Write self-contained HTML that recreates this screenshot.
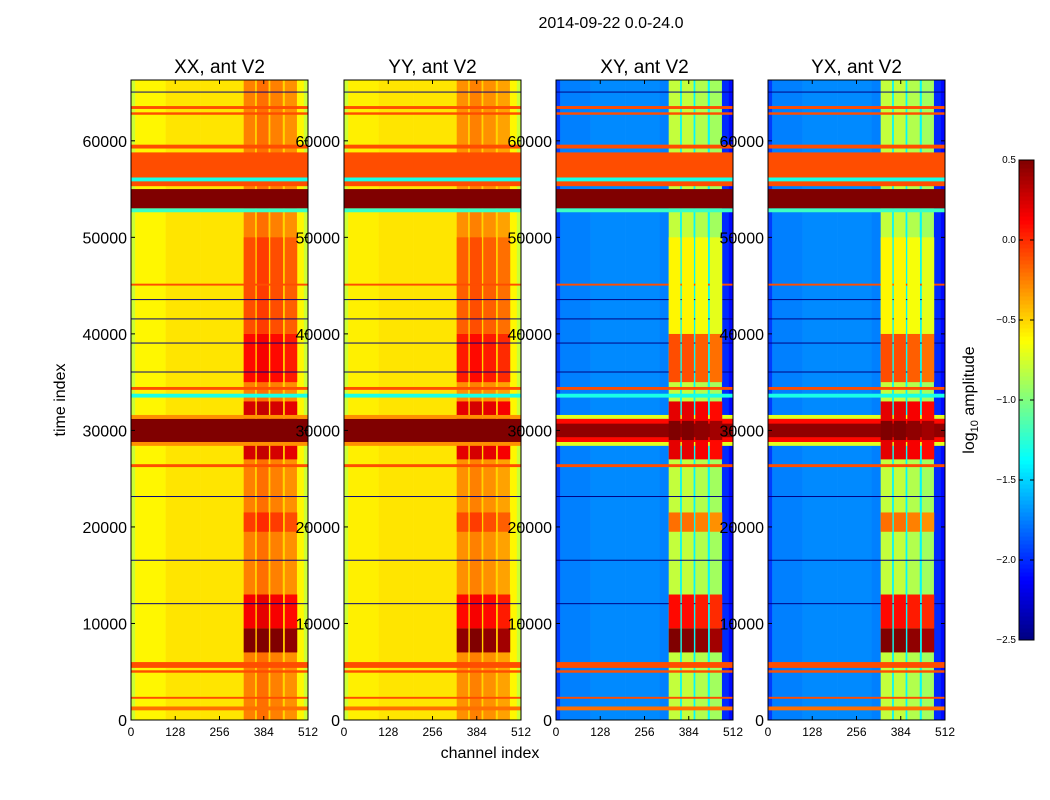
<!DOCTYPE html>
<html><head><meta charset="utf-8">
<style>
body{margin:0;background:#fff;}
svg{display:block;font-family:"Liberation Sans","DejaVu Sans",sans-serif;}
</style></head>
<body>
<svg id="chart" width="1050" height="800" viewBox="0 0 1050 800">
<text x="611" y="28" font-size="16" text-anchor="middle">2014-09-22 0.0-24.0</text>
<text x="490" y="758" font-size="16" text-anchor="middle">channel index</text>
<text transform="translate(65,400) rotate(-90)" font-size="16" text-anchor="middle">time index</text>
<text transform="translate(974,400) rotate(-90)" font-size="16" text-anchor="middle">log<tspan font-size="11" dy="4">10</tspan><tspan dy="-4"> amplitude</tspan></text>
<g id="panels"></g>
<g id="cbar"></g>
</svg>
<script>
const titles=["XX, ant V2","YY, ant V2","XY, ant V2","YX, ant V2"];
const panelKinds=["par","par","cross","cross"];
const channelEdges=[0,12,100,200,300,326,359,364,398,403,439,445,480,500,512];
const stripeMask=[0,0,0,0,0,1,0,1,0,1,0,1,0,0];
const xxBase=[-0.78,-0.6,-0.55,-0.55,-0.55,-0.25,-0.5,-0.2,-0.5,-0.25,-0.5,-0.3,-0.6,-0.78];
const yyBase=[-0.78,-0.58,-0.55,-0.55,-0.55,-0.3,-0.5,-0.25,-0.5,-0.3,-0.5,-0.35,-0.6,-0.78];
const xyBase=[-1.95,-1.75,-1.72,-1.72,-1.75,-0.8,-1.4,-0.8,-1.4,-0.85,-1.4,-0.9,-2.0,-2.1];
const yxBase=[-1.95,-1.75,-1.72,-1.72,-1.75,-0.8,-1.4,-0.8,-1.4,-0.85,-1.4,-0.9,-2.0,-2.1];
const boostBands=[[7000,9500,0.75,1.3],[9500,13000,0.4,0.9],[19500,21500,0.2,0.6],[27000,29000,0.5,1.0],[29000,31000,0.8,1.3],[31000,33000,0.5,1.0],[35000,40000,0.35,0.7],[40000,50000,0.15,0.2]];
const rowBands=[[53000,55000,0.5,0.5],[55300,58800,-0.1,-0.1],[52600,53000,-1.2,-1.2],[55800,56200,-1.3,-1.3],[59200,59600,-0.1,-0.1],[62700,62950,-0.1,-0.1],[63300,63600,-0.1,-0.1],[5400,6000,-0.1,-0.1],[4900,5150,-0.1,-0.1],[1000,1400,-0.2,-0.2],[2200,2400,-0.1,-0.1],[26200,26500,-0.1,-0.1],[33400,33800,-1.3,-1.3],[34200,34500,-0.1,-0.1],[45000,45200,-0.1,-0.1],[28800,31200,0.5,0.1],[29300,30700,0.5,0.45],[28400,28800,-0.3,-0.7],[31200,31600,-0.3,-0.7]];
const lineBands=[[23100,23200],[39000,39100],[36000,36100],[16500,16600],[12000,12100],[41500,41600],[43500,43600],[65000,65100]];
const yTicks=[0,10000,20000,30000,40000,50000,60000];
const xTicks=[0,128,256,384,512];
const cbTicks=[0.5,0.0,-0.5,-1.0,-1.5,-2.0,-2.5];
const vmin=-2.5,vmax=0.5,tMax=66300,chMax=512;
const panelX=[131,344,556,768],panelW=177,plotTop=80,plotBottom=720;
const NS="http://www.w3.org/2000/svg";
function jet(v){let t=Math.max(0,Math.min(1,(v-vmin)/(vmax-vmin)));
 const c=x=>Math.round(255*Math.max(0,Math.min(1,x)));
 return `rgb(${c(1.5-Math.abs(4*t-3))},${c(1.5-Math.abs(4*t-2))},${c(1.5-Math.abs(4*t-1))})`;}
function yS(t){return plotBottom-(t/tMax)*(plotBottom-plotTop);}
function mk(tag,at,parent){const e=document.createElementNS(NS,tag);for(const k in at)e.setAttribute(k,at[k]);parent.appendChild(e);return e;}
const bases=[xxBase,yyBase,xyBase,yxBase];
const G=document.getElementById('panels');
panelX.forEach((px,pi)=>{
 const xS=c=>px+(c/chMax)*panelW;
 const g=mk('g',{},G);
 
 
 const cross=panelKinds[pi]==="cross";
 const base=bases[pi];
 const cell=(c0,c1,t0,t1,v,name)=>{const r=mk('rect',{x:xS(c0),y:yS(t1),width:xS(c1)-xS(c0)+0.3,height:Math.max(0.8,yS(t0)-yS(t1)),fill:jet(v)},g);
  
  };
 const drawBase=()=>base.forEach((v,i)=>cell(channelEdges[i],channelEdges[i+1],0,tMax,v,'heatmap-column'));
 const drawBoost=()=>boostBands.forEach(b=>base.forEach((v,i)=>{if(stripeMask[i])cell(channelEdges[i],channelEdges[i+1],b[0],b[1],v+(cross?b[3]:b[2]),'heatmap-cell');}));
 const drawRows=()=>{rowBands.forEach(r=>cell(0,chMax,r[0],r[1],cross?r[3]:r[2],'heatmap-row'));
  lineBands.forEach(r=>cell(0,chMax,r[0],r[1],-2.6,'heatmap-line'));};
 drawBase();
 if(cross){drawRows();drawBoost();}else{drawBoost();drawRows();}
 mk('rect',{x:px,y:plotTop,width:panelW,height:plotBottom-plotTop,fill:'none',stroke:'#000','stroke-width':1},g);
 const t=mk('text',{x:px+panelW/2,y:73,'font-size':19,'text-anchor':'middle'},g);t.textContent=titles[pi];
 
 
 yTicks.forEach(v=>{const y=yS(v);
  mk('line',{x1:px,x2:px+4,y1:y,y2:y,stroke:'#000'},g);mk('line',{x1:px+panelW-4,x2:px+panelW,y1:y,y2:y,stroke:'#000'},g);
  const l=mk('text',{x:px-4,y:y+6,'font-size':16,'text-anchor':'end'},g);l.textContent=v;
  
  });
 xTicks.forEach(v=>{const x=xS(v);
  mk('line',{x1:x,x2:x,y1:plotBottom,y2:plotBottom-4,stroke:'#000'},g);mk('line',{x1:x,x2:x,y1:plotTop,y2:plotTop+4,stroke:'#000'},g);
  const l=mk('text',{x:x,y:736,'font-size':12,'text-anchor':'middle'},g);l.textContent=v;
  
  });
});
const C=document.getElementById('cbar');


const cx=1019,cw=15,ct=160,cb=640;
for(let i=0;i<120;i++){const v=vmin+(i+0.5)/120*(vmax-vmin);const y=cb-(i+1)/120*(cb-ct);
 mk('rect',{x:cx,y:y,width:cw,height:(cb-ct)/120+0.5,fill:jet(v)},C);}
mk('rect',{x:cx,y:ct,width:cw,height:cb-ct,fill:'none',stroke:'#000'},C);
cbTicks.forEach(v=>{const y=cb-(v-vmin)/(vmax-vmin)*(cb-ct);
 mk('line',{x1:cx,x2:cx+4,y1:y,y2:y,stroke:'#000'},C);
 mk('line',{x1:cx+cw-4,x2:cx+cw,y1:y,y2:y,stroke:'#000'},C);
 const l=mk('text',{x:1016,y:y+3,'font-size':10,'text-anchor':'end'},C);l.textContent=(v<0?'\u2212':'')+Math.abs(v).toFixed(1);
 
 });
</script>
</body></html>
